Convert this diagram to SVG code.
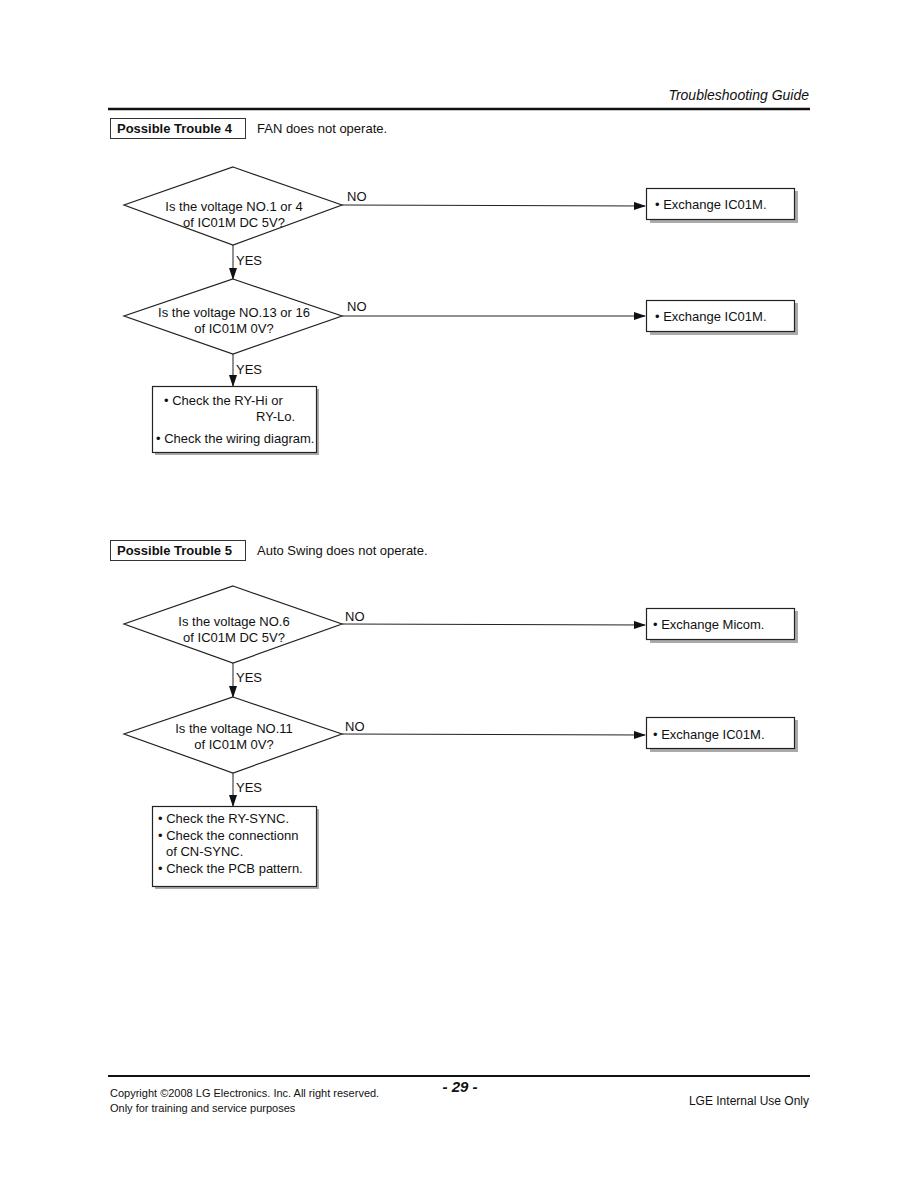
<svg xmlns="http://www.w3.org/2000/svg" width="918" height="1188" viewBox="0 0 918 1188">
<style>
text{font-family:"Liberation Sans",Arial,sans-serif;fill:#111;}
.t{font-size:13px;}
.b{font-size:13px;font-weight:bold;}
.lbl{font-size:13px;}
.dm{fill:#fff;stroke:#222;stroke-width:1.2;}
.bx{fill:#fff;stroke:#222;stroke-width:1.2;}
.sh{fill:#aaa;}
.ln{stroke:#222;stroke-width:1;fill:none;}
.ft{font-size:11px;}
</style>
<defs>
<marker id="ah" markerWidth="12" markerHeight="8" refX="11" refY="4" orient="auto" markerUnits="userSpaceOnUse">
<path d="M0,0 L12,4 L0,8 Z" fill="#111"/>
</marker>
</defs>
<rect width="918" height="1188" fill="#fff"/>

<g id="header">
<text x="809" y="100" text-anchor="end" font-size="14" font-style="italic">Troubleshooting Guide</text>
<line x1="108" y1="109" x2="810" y2="109" stroke="#111" stroke-width="2.5"/>
</g>

<g id="title4">
<rect x="110.5" y="118.5" width="135" height="20" fill="#fff" stroke="#333" stroke-width="1"/>
<text x="117" y="133" class="b">Possible Trouble 4</text>
<text x="257" y="133" class="t">FAN does not operate.</text>
</g>

<g id="connectors">
<line class="ln" x1="342" y1="205" x2="645" y2="206" marker-end="url(#ah)"/>
<line class="ln" x1="233" y1="245" x2="233" y2="279" marker-end="url(#ah)"/>
<line class="ln" x1="342" y1="316" x2="645" y2="316" marker-end="url(#ah)"/>
<line class="ln" x1="233" y1="354" x2="233" y2="386" marker-end="url(#ah)"/>
<line class="ln" x1="342" y1="624" x2="645" y2="625" marker-end="url(#ah)"/>
<line class="ln" x1="233" y1="663" x2="233" y2="697" marker-end="url(#ah)"/>
<line class="ln" x1="342" y1="734" x2="645" y2="735" marker-end="url(#ah)"/>
<line class="ln" x1="233" y1="773" x2="233" y2="806" marker-end="url(#ah)"/>
<text x="347" y="201" class="lbl">NO</text>
<text x="236" y="265" class="lbl">YES</text>
<text x="347" y="311" class="lbl">NO</text>
<text x="236" y="374" class="lbl">YES</text>
<text x="345" y="621" class="lbl">NO</text>
<text x="236" y="682" class="lbl">YES</text>
<text x="345" y="731" class="lbl">NO</text>
<text x="236" y="792" class="lbl">YES</text>
</g>

<g id="d1">
<polygon class="dm" points="233,167 342,205 233,245 124,205"/>
<text x="234" y="211" class="t" text-anchor="middle">Is the voltage NO.1 or 4</text>
<text x="234" y="227" class="t" text-anchor="middle">of IC01M DC 5V?</text>
</g>
<g id="r1">
<rect class="sh" x="650" y="191" width="148" height="32"/>
<rect class="bx" x="646.5" y="188.5" width="148" height="31"/>
<text x="655" y="209" class="t">• Exchange IC01M.</text>
</g>

<g id="d2">
<polygon class="dm" points="233,279 342,316 233,354 124,316"/>
<text x="234" y="317" class="t" text-anchor="middle">Is the voltage NO.13 or 16</text>
<text x="234" y="333" class="t" text-anchor="middle">of IC01M 0V?</text>
</g>
<g id="r2">
<rect class="sh" x="650" y="303" width="148" height="32"/>
<rect class="bx" x="646.5" y="300.5" width="148" height="31"/>
<text x="655" y="321" class="t">• Exchange IC01M.</text>
</g>

<g id="r3">
<rect class="sh" x="155" y="389" width="164" height="66"/>
<rect class="bx" x="152.5" y="386.5" width="164" height="66"/>
<text x="164" y="405" class="t">• Check the RY-Hi or</text>
<text x="256" y="421" class="t">RY-Lo.</text>
<text x="156" y="443" class="t">• Check the wiring diagram.</text>
</g>

<g id="title5">
<rect x="110.5" y="540.5" width="135" height="20" fill="#fff" stroke="#333" stroke-width="1"/>
<text x="117" y="555" class="b">Possible Trouble 5</text>
<text x="257" y="555" class="t">Auto Swing does not operate.</text>
</g>

<g id="d3">
<polygon class="dm" points="233,586 342,624 233,663 124,624"/>
<text x="234" y="626" class="t" text-anchor="middle">Is the voltage NO.6</text>
<text x="234" y="642" class="t" text-anchor="middle">of IC01M DC 5V?</text>
</g>
<g id="r4">
<rect class="sh" x="650" y="611" width="148" height="32"/>
<rect class="bx" x="646.5" y="608.5" width="148" height="31"/>
<text x="653" y="629" class="t">• Exchange Micom.</text>
</g>

<g id="d4">
<polygon class="dm" points="233,697 342,734 233,773 124,734"/>
<text x="234" y="733" class="t" text-anchor="middle">Is the voltage NO.11</text>
<text x="234" y="749" class="t" text-anchor="middle">of IC01M 0V?</text>
</g>
<g id="r5">
<rect class="sh" x="650" y="720" width="148" height="32"/>
<rect class="bx" x="646.5" y="717.5" width="148" height="31"/>
<text x="653" y="739" class="t">• Exchange IC01M.</text>
</g>

<g id="r6">
<rect class="sh" x="155" y="809" width="164" height="80"/>
<rect class="bx" x="152.5" y="806.5" width="164" height="80"/>
<text x="158" y="823" class="t">• Check the RY-SYNC.</text>
<text x="158" y="840" class="t">• Check the connectionn</text>
<text x="166" y="856" class="t">of CN-SYNC.</text>
<text x="158" y="873" class="t">• Check the PCB pattern.</text>
</g>

<g id="footer">
<line x1="108" y1="1076" x2="810" y2="1076" stroke="#111" stroke-width="2"/>
<text x="110" y="1097" class="ft">Copyright ©2008 LG Electronics. Inc. All right reserved.</text>
<text x="110" y="1112" class="ft">Only for training and service purposes</text>
<text x="460" y="1092" font-size="15" font-weight="bold" font-style="italic" text-anchor="middle">- 29 -</text>
<text x="809" y="1105" font-size="12" text-anchor="end">LGE Internal Use Only</text>
</g>
</svg>
